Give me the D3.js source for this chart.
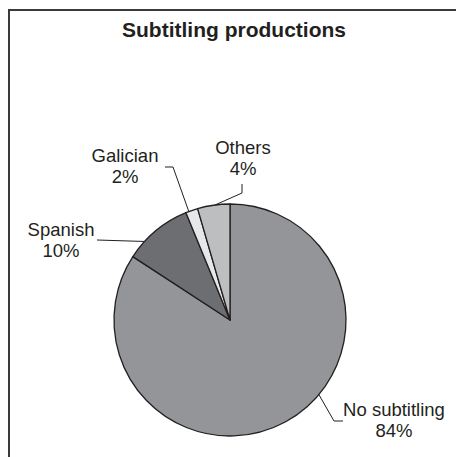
<!DOCTYPE html>
<html>
<head>
<meta charset="utf-8">
<script src="https://cdn.jsdelivr.net/npm/d3@7/dist/d3.min.js"></script>
<style>
  html, body { margin: 0; padding: 0; background: #fff; }
  svg { display: block; }
  text { font-family: "Liberation Sans", Arial, sans-serif; fill: #231f20; }
</style>
</head>
<body>
<svg id="chart" width="456" height="457"></svg>
<script>
// ---- data ----
const categories = ["No subtitling", "Spanish", "Galician", "Others"];
const values = [84.2, 9.6, 1.7, 4.5];
const percentLabels = ["84%", "10%", "2%", "4%"];
const title = "Subtitling productions";

// ---- styles / layout ----
const colors = ["#939598", "#6d6e71", "#e6e7e8", "#bcbec0"];
const W = 456, H = 457;
const cx = 230, cy = 320, R = 116;
// label layout: label centre (dx,dy from pie centre), leader start, elbow, anchor angle (deg)
const labelLayout = [
  { x: 394, y: 416, start: [343, 421], elbow: [334, 421], angle: 130 },
  { x: 61,  y: 236, start: [97, 240],  elbow: [97, 240],  angle: 312.6 },
  { x: 125, y: 162, start: [165, 167], elbow: [173, 167], angle: 339.2 },
  { x: 243, y: 154, start: [242, 184], elbow: [242, 193], angle: 352.6 }
];

const svg = d3.select("#chart");

// frame
svg.append("path")
  .attr("d", `M9,${H} L9,10 L${W},10`)
  .attr("fill", "none")
  .attr("stroke", "#3a3a3a")
  .attr("stroke-width", 2);

// title
svg.append("text")
  .attr("x", 234).attr("y", 37)
  .attr("text-anchor", "middle")
  .style("font-weight", "bold")
  .style("font-size", "21px")
  .text(title);

const data = categories.map((c, i) => ({ name: c, value: values[i], pct: percentLabels[i], color: colors[i], layout: labelLayout[i] }));

const pie = d3.pie().sort(null).value(d => d.value).startAngle(0).endAngle(2 * Math.PI);
const arc = d3.arc().innerRadius(0).outerRadius(R);
const arcs = pie(data);

const g = svg.append("g").attr("transform", `translate(${cx},${cy})`);
g.selectAll("path.slice")
  .data(arcs)
  .join("path")
  .attr("class", "slice")
  .attr("d", arc)
  .attr("fill", d => d.data.color)
  .attr("stroke", "#231f20")
  .attr("stroke-width", 1.3)
  .attr("stroke-linejoin", "round");

// leader lines
const line = d3.line();
arcs.forEach(a => {
  const L = a.data.layout;
  const ang = L.angle * Math.PI / 180;
  const ax = cx + R * Math.sin(ang), ay = cy - R * Math.cos(ang);
  svg.append("path")
    .attr("d", line([L.start, L.elbow, [ax, ay]]))
    .attr("fill", "none")
    .attr("stroke", "#231f20")
    .attr("stroke-width", 1);
  const t = svg.append("text")
    .attr("x", L.x).attr("y", L.y)
    .attr("text-anchor", "middle")
    .style("font-size", "18.5px");
  t.append("tspan").attr("x", L.x).text(a.data.name);
  t.append("tspan").attr("x", L.x).attr("dy", 21).text(a.data.pct);
});
</script>
</body>
</html>
